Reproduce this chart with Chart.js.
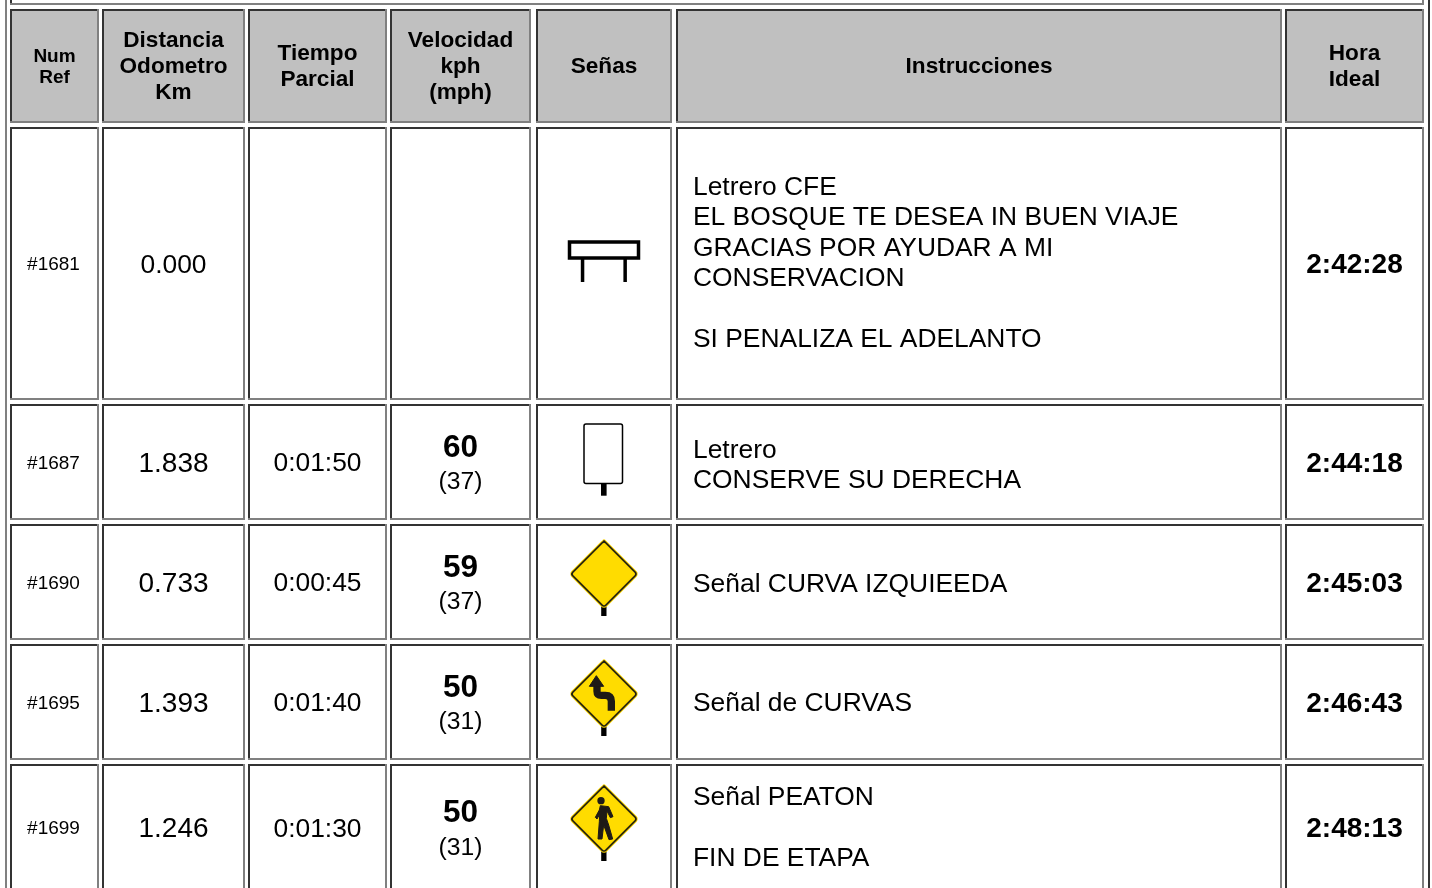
<!DOCTYPE html>
<html lang="es">
<head>
<meta charset="utf-8">
<title>Hoja de ruta</title>
<style>
    html, body { margin: 0; padding: 0; background: #fff; overflow: hidden; }
    canvas { display: block; }
</style>
</head>
<body>
<canvas id="hojaRuta" width="1432" height="888"></canvas>
<script src="https://cdn.jsdelivr.net/npm/chart.js@4/dist/chart.umd.min.js"></script>
<script>
const encabezados = [
    ["Num", "Ref"],
    ["Distancia", "Odometro", "Km"],
    ["Tiempo", "Parcial"],
    ["Velocidad", "kph", "(mph)"],
    ["Señas"],
    ["Instrucciones"],
    ["Hora", "Ideal"]
];
const numRef = ["#1681", "#1687", "#1690", "#1695", "#1699"];
const distancia = ["0.000", "1.838", "0.733", "1.393", "1.246"];
const tiempoParcial = ["", "0:01:50", "0:00:45", "0:01:40", "0:01:30"];
const velocidadKph = ["", "60", "59", "50", "50"];
const velocidadMph = ["", "(37)", "(37)", "(31)", "(31)"];
const senas = ["puente", "letrero", "rombo", "curvas", "peaton"];
const instrucciones = [
    ["Letrero CFE", "EL BOSQUE TE DESEA IN BUEN VIAJE", "GRACIAS POR AYUDAR A MI", "CONSERVACION", "", "SI PENALIZA EL ADELANTO"],
    ["Letrero", "CONSERVE SU DERECHA"],
    ["Señal CURVA IZQUIEEDA"],
    ["Señal de CURVAS"],
    ["Señal PEATON", "", "FIN DE ETAPA"]
];
const horaIdeal = ["2:42:28", "2:44:18", "2:45:03", "2:46:43", "2:48:13"];

// rejilla de la tabla, en unidades de las escalas
const columnas = [[10, 99], [102, 245], [248, 387], [390, 531], [536, 672], [676, 1282], [1285, 1424]];
const filaAnterior = [-60, 5];
const filaEncabezado = [9, 123];
const filas = [[127, 400], [404, 520], [524, 640], [644, 760], [764, 891]];
// ajustes finos por fila
const ajusteInstrucciones = [0, 3.5, 2.5, 2, 0.5];
const ajusteSena = [0, 0, 1, 1, 0];
const tamanoDistancia = [26.4, 28, 28, 28, 28];

const colorOscuro = "#333333";
const colorClaro = "#808080";
const colorEncabezado = "#c0c0c0";
const fuente = '"Liberation Sans", Arial, sans-serif';

function centro(par) {
    return (par[0] + par[1]) / 2;
}

function rombo(ctx) {
    ctx.fillStyle = "#000";
    ctx.fillRect(42.2, 62, 5.3, 16);
    ctx.beginPath();
    ctx.moveTo(45, 3);
    ctx.arcTo(78, 36, 45, 69, 2.5);
    ctx.arcTo(45, 69, 12, 36, 2.5);
    ctx.arcTo(12, 36, 45, 3, 2.5);
    ctx.arcTo(45, 3, 78, 36, 2.5);
    ctx.closePath();
    ctx.lineJoin = "round";
    ctx.fillStyle = "#ffdc00";
    ctx.fill();
    ctx.lineWidth = 3.4;
    ctx.strokeStyle = "#f5d000";
    ctx.stroke();
    ctx.lineWidth = 1.7;
    ctx.strokeStyle = "#1a1a10";
    ctx.stroke();
}

function dibujarSena(tipo) {
    const lienzo = document.createElement("canvas");
    lienzo.width = 90;
    lienzo.height = 90;
    const ctx = lienzo.getContext("2d");
    if (tipo === "puente") {
        ctx.strokeStyle = "#000";
        ctx.lineWidth = 3.5;
        ctx.strokeRect(10.5, 23, 69, 16);
        ctx.fillStyle = "#000";
        ctx.fillRect(21.8, 40, 3.5, 23);
        ctx.fillRect(64.4, 40, 3.5, 23);
    } else if (tipo === "letrero") {
        ctx.strokeStyle = "#000";
        ctx.lineWidth = 1.5;
        ctx.beginPath();
        ctx.roundRect(25, 7, 38.5, 59.5, 2);
        ctx.stroke();
        ctx.fillStyle = "#000";
        ctx.fillRect(42, 67, 5.6, 11.7);
    } else {
        rombo(ctx);
        ctx.save();
        ctx.translate(45, 36);
        ctx.scale(1 / 3, 1 / 3);
        ctx.fillStyle = "#1e1a16";
        ctx.strokeStyle = "#1e1a16";
        if (tipo === "curvas") {
            ctx.lineWidth = 22;
            ctx.lineJoin = "round";
            ctx.beginPath();
            ctx.moveTo(-21, -28);
            ctx.lineTo(-21, -8);
            ctx.quadraticCurveTo(-21, 4, -8, 4);
            ctx.lineTo(4, 4);
            ctx.quadraticCurveTo(22, 4, 22, 22);
            ctx.lineTo(22, 50);
            ctx.stroke();
            ctx.beginPath();
            ctx.moveTo(-23, -55);
            ctx.lineTo(-44, -23);
            ctx.lineTo(-1, -23);
            ctx.closePath();
            ctx.lineWidth = 3;
            ctx.stroke();
            ctx.fill();
        }
        if (tipo === "peaton") {
            ctx.beginPath();
            ctx.arc(-9, -55, 11, 0, Math.PI * 2);
            ctx.fill();
            const cuerpo = [[-11, -40], [14, -37], [27, -7], [19, -4], [9, -24], [7, -2], [14, 18], [26, 60], [15, 62], [-1, 18], [-6, 60], [-18, 60], [-14, 8], [-13, -14], [-21, 0], [-26, -5], [-14, -27]];
            ctx.beginPath();
            cuerpo.forEach(([x, y], i) => i ? ctx.lineTo(x, y) : ctx.moveTo(x, y));
            ctx.closePath();
            ctx.lineWidth = 3;
            ctx.lineJoin = "round";
            ctx.stroke();
            ctx.fill();
        }
        ctx.restore();
    }
    return lienzo;
}

function pintarCelda(chart, col, fila, relleno) {
    const { x, y } = chart.scales;
    const { ctx } = chart;
    const izq = x.getPixelForValue(col[0]);
    const der = x.getPixelForValue(col[1]);
    const arr = y.getPixelForValue(fila[0]);
    const aba = y.getPixelForValue(fila[1]);
    if (relleno) {
        ctx.fillStyle = relleno;
        ctx.fillRect(izq, arr, der - izq, aba - arr);
    }
    ctx.fillStyle = colorOscuro;
    ctx.fillRect(izq, arr, der - izq, 2);
    ctx.fillRect(izq, arr, 2, aba - arr);
    ctx.fillStyle = colorClaro;
    ctx.fillRect(izq, aba - 2, der - izq, 2);
    ctx.fillRect(der - 2, arr, 2, aba - arr);
}

function pintarTexto(chart, texto, xVal, yVal, estilo, alinear) {
    const { ctx, scales } = chart;
    ctx.font = estilo;
    ctx.fillStyle = "#000";
    ctx.textAlign = alinear || "center";
    ctx.textBaseline = "middle";
    ctx.fillText(texto, scales.x.getPixelForValue(xVal), scales.y.getPixelForValue(yVal));
}

function pintarLineas(chart, lineas, xVal, yCentro, paso, estilo, alinear) {
    const inicio = yCentro - (lineas.length - 1) * paso / 2;
    lineas.forEach((linea, i) => {
        if (linea) pintarTexto(chart, linea, xVal, inicio + i * paso, estilo, alinear);
    });
}

const pluginTabla = {
    id: "tablaRally",
    beforeDatasetsDraw(chart) {
        const { ctx, scales } = chart;
        ctx.save();
        // borde exterior de la tabla
        ctx.fillStyle = colorClaro;
        ctx.fillRect(scales.x.getPixelForValue(5), 0, 2, chart.height);
        ctx.fillStyle = colorOscuro;
        ctx.fillRect(scales.x.getPixelForValue(1428), 0, 2, chart.height);
        // la fila cortada de arriba ocupa todas las columnas
        pintarCelda(chart, [columnas[0][0], columnas[6][1]], filaAnterior);
        columnas.forEach(col => {
            pintarCelda(chart, col, filaEncabezado, colorEncabezado);
            filas.forEach(fila => pintarCelda(chart, col, fila));
        });
        ctx.restore();
    },
    afterDatasetsDraw(chart) {
        const { ctx } = chart;
        ctx.save();
        encabezados.forEach((lineas, c) => {
            const chico = c === 0;
            pintarLineas(chart, lineas, centro(columnas[c]), centro(filaEncabezado) + (chico ? 1 : 0.7),
                chico ? 21 : 26.4, `bold ${chico ? 19 : 22.6}px ${fuente}`);
        });
        filas.forEach((fila, f) => {
            const yMedio = centro(fila);
            pintarTexto(chart, numRef[f], centro(columnas[0]) - 1, yMedio + 1.5, `19px ${fuente}`);
            pintarTexto(chart, distancia[f], centro(columnas[1]), yMedio + 2, `${tamanoDistancia[f]}px ${fuente}`);
            pintarTexto(chart, tiempoParcial[f], centro(columnas[2]), yMedio + 2, `26.4px ${fuente}`);
            if (velocidadKph[f]) {
                pintarTexto(chart, velocidadKph[f], centro(columnas[3]), yMedio - 13.7, `bold 31.5px ${fuente}`);
                pintarTexto(chart, velocidadMph[f], centro(columnas[3]), yMedio + 20.5, `24.7px ${fuente}`);
            }
            pintarLineas(chart, instrucciones[f], 693, yMedio + ajusteInstrucciones[f], 30.4, `26.4px ${fuente}`, "left");
            pintarTexto(chart, horaIdeal[f], centro(columnas[6]), yMedio + 2, `bold 28px ${fuente}`);
        });
        ctx.restore();
    }
};

const chartTabla = new Chart(document.getElementById("hojaRuta"), {
    type: "scatter",
    data: {
        datasets: [{
            label: "Señas",
            data: filas.map((fila, f) => ({ x: 604, y: Math.round(centro(fila)) + ajusteSena[f] })),
            pointStyle: senas.map(dibujarSena),
            pointRadius: 45,
            pointHoverRadius: 45,
            clip: false
        }]
    },
    options: {
        responsive: false,
        animation: false,
        events: [],
        layout: { padding: 0, autoPadding: false },
        plugins: { legend: { display: false }, tooltip: { enabled: false }, title: { display: false } },
        scales: {
            x: { type: "linear", display: false, min: 0, max: 1432 },
            y: { type: "linear", display: false, min: 0, max: 888, reverse: true }
        }
    },
    plugins: [pluginTabla]
});
</script>
</body>
</html>
